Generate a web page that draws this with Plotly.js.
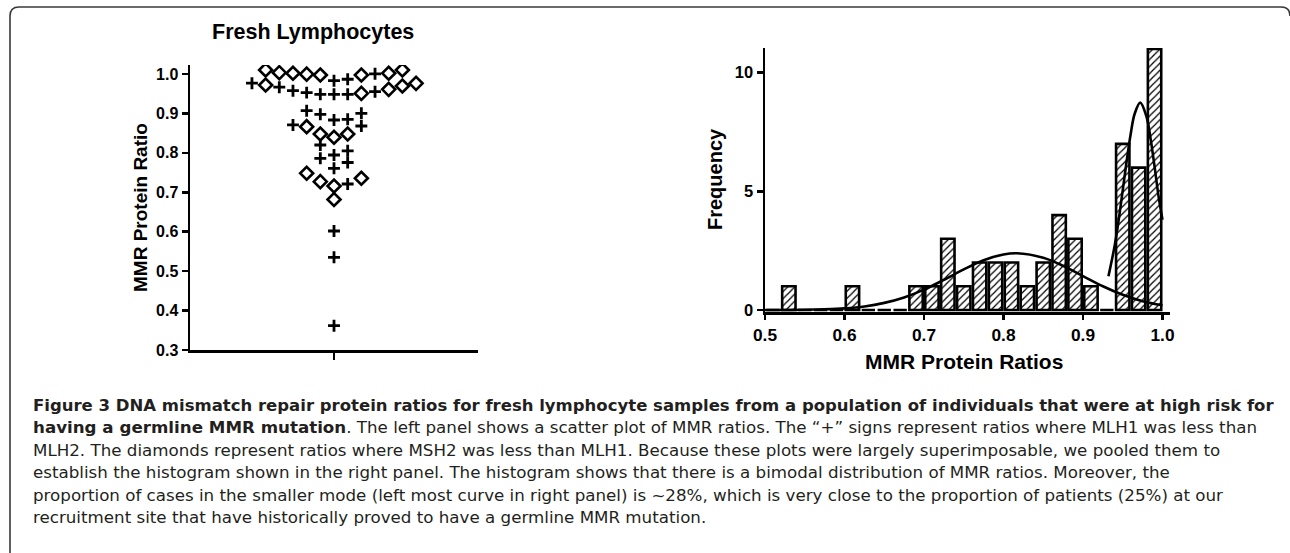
<!DOCTYPE html>
<html><head><meta charset="utf-8">
<script src="https://cdn.plot.ly/plotly-3.0.1.min.js"></script>
<style>html,body{margin:0;padding:0;background:#fff;}#chart{width:1290px;height:553px;}</style>
</head><body><div id="chart"></div>
<script>
// ---------- Left panel: MMR protein ratio per fresh lymphocyte sample ----------
// lowerProtein: 'MLH1' = MLH1 < MLH2 ("+"), 'MSH2' = MSH2 < MLH1 (diamond)
const ratios = [
  1.0102, 1.0018, 1.0018, 0.9995, 0.9975, 0.9830, 0.9866, 0.9975, 1.0005, 1.0033, 1.0102,
  0.9766, 0.9695, 0.9665, 0.9551, 0.9528, 0.9485, 0.9485, 0.9485, 0.9508, 0.9576, 0.9610, 0.9721, 0.9762,
  0.9069, 0.8978, 0.8833, 0.8851, 0.9003,
  0.8707, 0.8663, 0.8478, 0.8395, 0.8478, 0.8681,
  0.8199, 0.8052, 0.7946,
  0.7862, 0.7755, 0.7608,
  0.7482, 0.7269, 0.7159, 0.7210, 0.7355,
  0.6817, 0.6018, 0.5351, 0.3616
];
const lowerProtein = [
  'MSH2','MSH2','MSH2','MSH2','MSH2','MLH1','MLH1','MSH2','MLH1','MSH2','MSH2',
  'MLH1','MSH2','MLH1','MLH1','MLH1','MLH1','MLH1','MLH1','MSH2','MLH1','MSH2','MSH2','MSH2',
  'MLH1','MLH1','MLH1','MLH1','MLH1',
  'MLH1','MSH2','MSH2','MSH2','MSH2','MLH1',
  'MLH1','MLH1','MLH1',
  'MLH1','MLH1','MLH1',
  'MSH2','MSH2','MSH2','MLH1','MSH2',
  'MSH2','MLH1','MLH1','MLH1'
];
const ratioTicks = [0.3, 0.4, 0.5, 0.6, 0.7, 0.8, 0.9, 1.0];

// ---------- Right panel: histogram of pooled ratios ----------
const binCenters = [0.51,0.53,0.55,0.57,0.59,0.61,0.63,0.65,0.67,0.69,0.71,0.73,0.75,0.77,0.79,0.81,0.83,0.85,0.87,0.89,0.91,0.93,0.95,0.97,0.99];
const binCounts  = [0,   1,   0,   0,   0,   1,   0,   0,   0,   1,   1,   3,   1,   2,   2,   2,   1,   2,   4,   3,   1,   0,   7,   6,   11];
const fitLowX  = [0.50,0.55,0.575,0.60,0.625,0.65,0.675,0.70,0.725,0.75,0.775,0.80,0.817,0.85,0.875,0.90,0.925,0.95,0.975,1.00];
const fitLowY  = [0.00,0.01,0.03,0.07,0.15,0.30,0.53,0.86,1.27,1.71,2.10,2.34,2.39,2.20,1.86,1.43,1.00,0.64,0.37,0.20];
const fitHighX = [0.932,0.94,0.945,0.95,0.955,0.96,0.965,0.972,0.98,0.985,0.99,0.995,1.00];
const fitHighY = [1.42,2.74,3.82,5.05,6.30,7.42,8.27,8.74,8.13,7.22,6.05,4.80,3.80];
const histTicks = [0.5, 0.6, 0.7, 0.8, 0.9, 1.0];
const freqTicks = [0, 5, 10];

const captionLines = [
  '<b>Figure 3 DNA mismatch repair protein ratios for fresh lymphocyte samples from a population of individuals that were at high risk for</b>',
  '<b>having a germline MMR mutation</b>. The left panel shows a scatter plot of MMR ratios. The \u201c+\u201d signs represent ratios where MLH1 was less than',
  'MLH2. The diamonds represent ratios where MSH2 was less than MLH1. Because these plots were largely superimposable, we pooled them to',
  'establish the histogram shown in the right panel. The histogram shows that there is a bimodal distribution of MMR ratios. Moreover, the',
  'proportion of cases in the smaller mode (left most curve in right panel) is ~28%, which is very close to the proportion of patients (25%) at our',
  'recruitment site that have historically proved to have a germline MMR mutation.'
];

// ---------- Column-scatter layout (Prism-like rows, centred) ----------
function swarmColumns(values, rowSpan) {
  const order = values.map((v, i) => i).sort((a, b) => values[b] - values[a]);
  const col = new Array(values.length).fill(0);
  let s = 0;
  while (s < order.length) {
    let e = s;
    while (e + 1 < order.length && values[order[s]] - values[order[e + 1]] <= rowSpan) e++;
    const n = e - s + 1;
    let l = -Math.floor(n / 2), r = n - 1 - Math.floor(n / 2);
    for (let k = 0; k < n; k++) col[order[s + k]] = (k % 2 === 0) ? l++ : r--;
    s = e + 1;
  }
  return col;
}
const cols = swarmColumns(ratios, 0.033);
function pick(group) {
  const x = [], y = [];
  ratios.forEach((v, i) => { if (lowerProtein[i] === group) { x.push(cols[i]); y.push(v); } });
  return {x, y};
}
const plusPts = pick('MLH1'), diaPts = pick('MSH2');

const W = 1290, H = 553;
const px = v => v / W, py = v => 1 - v / H;
const FONT = 'Liberation Sans, Arial, sans-serif';

const traces = [
  {type: 'scatter', mode: 'markers', x: plusPts.x, y: plusPts.y, xaxis: 'x', yaxis: 'y',
   marker: {symbol: 'cross-thin', size: 8.5, line: {color: '#000', width: 2.8}}, name: 'MLH1 < MLH2'},
  {type: 'scatter', mode: 'markers', x: diaPts.x, y: diaPts.y, xaxis: 'x', yaxis: 'y',
   marker: {symbol: 'diamond-open', size: 10, color: '#000', line: {color: '#000', width: 2.6}}, name: 'MSH2 < MLH1'},
  {type: 'bar', x: binCenters, y: binCounts, xaxis: 'x2', yaxis: 'y2', width: 0.0168,
   marker: {color: '#fff', line: {color: '#000', width: 2.6},
            pattern: {shape: '/', fgcolor: '#000', bgcolor: '#fff', size: 5, solidity: 0.25}}, name: 'Frequency'},
  {type: 'scatter', mode: 'lines', x: fitLowX, y: fitLowY, xaxis: 'x2', yaxis: 'y2',
   line: {color: '#000', width: 2.6, shape: 'spline'}, name: 'fit 1'},
  {type: 'scatter', mode: 'lines', x: fitHighX, y: fitHighY, xaxis: 'x2', yaxis: 'y2',
   line: {color: '#000', width: 2.6, shape: 'spline'}, name: 'fit 2'}
];

const tickFont = {family: FONT, size: 16, color: '#000', weight: 'bold'};
const axisCommon = {showgrid: false, zeroline: false, showline: true, linecolor: '#000', linewidth: 2.5,
  ticks: 'outside', tickcolor: '#000', tickwidth: 2.5, tickfont: tickFont, fixedrange: true};

const annotations = [
  {text: 'Fresh Lymphocytes', x: px(313.3), y: py(31.7), font: {family: FONT, size: 21.5, color: '#000', weight: 'bold'}},
  {text: 'MMR Protein Ratio', x: px(141), y: py(208), textangle: -90, font: {family: FONT, size: 19, color: '#000', weight: 'bold'}},
  {text: 'Frequency', x: px(715), y: py(179), textangle: -90, font: {family: FONT, size: 20, color: '#000', weight: 'bold'}},
  {text: 'MMR Protein Ratios', x: px(964), y: py(361.7), font: {family: FONT, size: 21, color: '#000', weight: 'bold'}}
].map(a => Object.assign({xref: 'paper', yref: 'paper', showarrow: false, xanchor: 'center', yanchor: 'middle'}, a));

captionLines.forEach((t, k) => {
  annotations.push({text: t, xref: 'paper', yref: 'paper', x: px(31), y: py(405 + 22.4 * k),
    xanchor: 'left', yanchor: 'middle', showarrow: false, align: 'left',
    font: {family: 'DejaVu Sans, sans-serif', size: k === 0 ? 16.5 : 16.7, color: '#231f20'}});
});

const layout = {
  width: W, height: H, margin: {l: 0, r: 0, t: 0, b: 0}, showlegend: false,
  paper_bgcolor: '#fff', plot_bgcolor: 'rgba(0,0,0,0)',
  xaxis: Object.assign({}, axisCommon, {domain: [px(190), px(478)], range: [-10.53, 10.53], anchor: 'y',
    tickvals: [0], showticklabels: false, ticklen: 7}),
  yaxis: Object.assign({}, axisCommon, {domain: [py(350), py(65)], range: [0.3, 1.0228], anchor: 'x',
    tickvals: ratioTicks, tickformat: '.1f', ticklen: 6}),
  xaxis2: Object.assign({}, axisCommon, {domain: [px(765), px(1170)], range: [0.5, 1.00943], anchor: 'y2',
    tickvals: histTicks, tickformat: '.1f', ticklen: 5, tickfont: Object.assign({}, tickFont, {size: 17.3})}),
  yaxis2: Object.assign({}, axisCommon, {domain: [py(312.4), py(48)], range: [-0.101, 11.041], anchor: 'x2',
    tickvals: freqTicks, ticklen: 6, tickfont: Object.assign({}, tickFont, {size: 16.5})}),
  annotations: annotations,
  shapes: [{type: 'path', xref: 'paper', yref: 'paper', line: {color: '#3a3a3a', width: 1.6},
    path: 'M ' + px(10) + ',' + py(553) + ' L ' + px(10) + ',' + py(16) + ' Q ' + px(10) + ',' + py(7) + ' ' + px(19) + ',' + py(7) +
          ' L ' + px(1281) + ',' + py(7) + ' Q ' + px(1290) + ',' + py(7) + ' ' + px(1290) + ',' + py(16)}]
};

Plotly.newPlot('chart', traces, layout, {displayModeBar: false, staticPlot: true});
</script></body></html>
